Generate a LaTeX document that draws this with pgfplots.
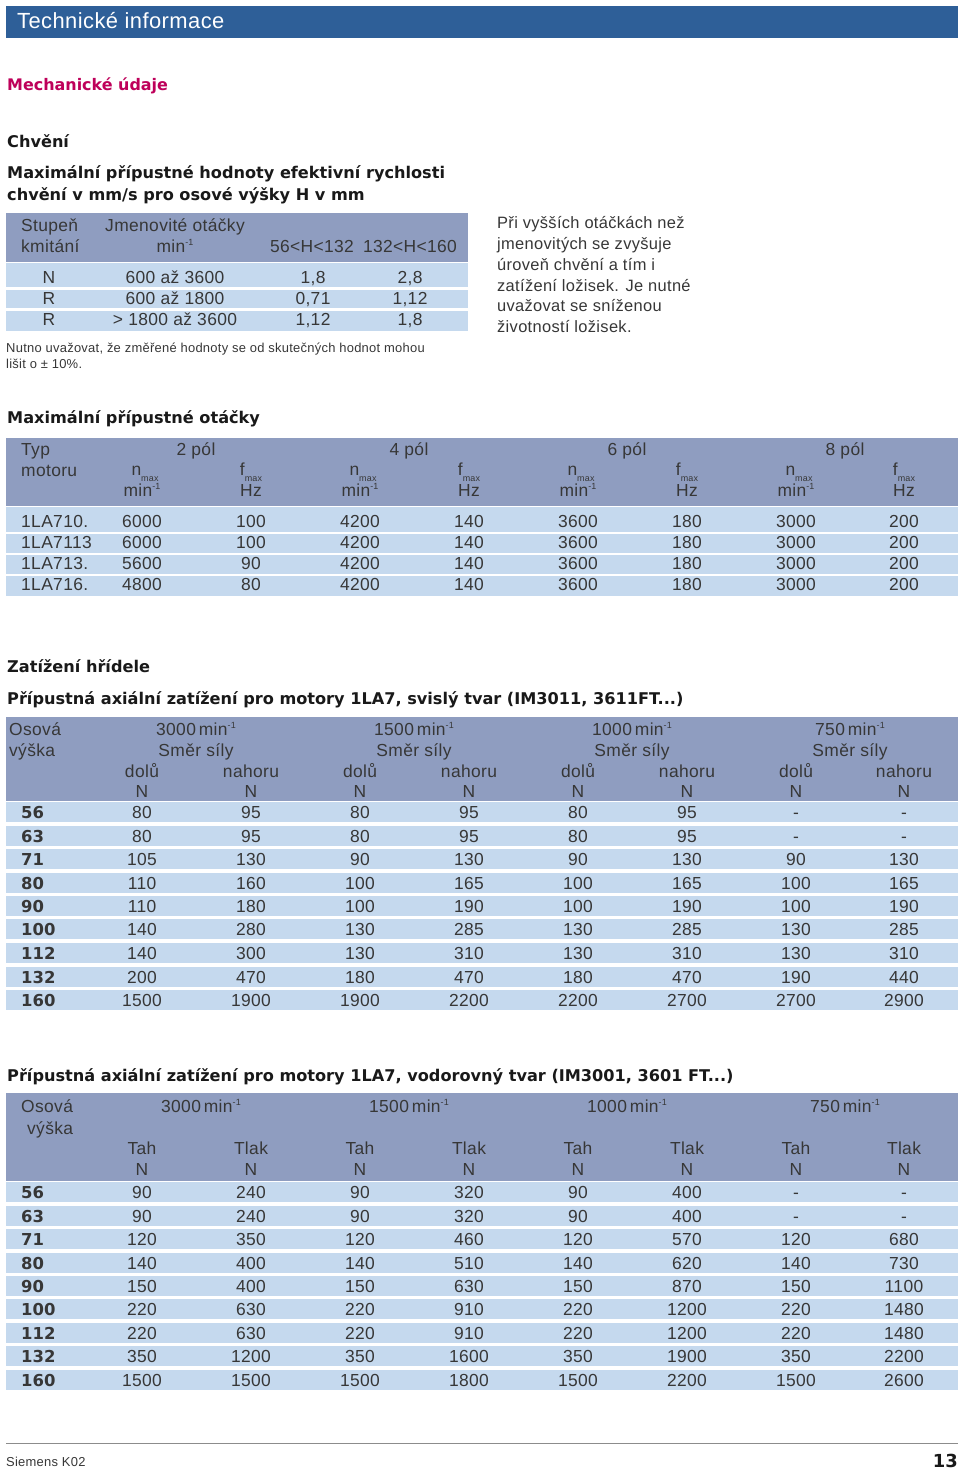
\documentclass[border=0pt]{standalone}
\usepackage{pgfplots}
\pgfplotsset{compat=1.18}
\usepackage{pgfplotstable}
\usepackage{fontspec}
\setmainfont[LetterSpace=2]{Liberation Sans}
\newfontfamily\bff{DejaVu Sans}
\definecolor{band}{RGB}{46,95,152}
\definecolor{mag}{RGB}{190,0,90}
\definecolor{hdr}{RGB}{143,157,192}
\definecolor{rowc}{RGB}{197,217,238}
\definecolor{txt}{RGB}{55,55,55}
\definecolor{rulec}{RGB}{140,140,140}
\newcommand\fs[1]{\fontsize{#1}{#1}\selectfont}
\newcommand\mi{min\raisebox{0.42em}{\fs{9}-1}}
\newcommand\nmax{n\raisebox{-0.32em}{\fs{9}max}}
\newcommand\fmax{f\raisebox{-0.32em}{\fs{9}max}}
\tikzset{
 tx/.style={inner sep=0pt,text=txt,font=\fs{17.5},yshift=-4bp},
 sm/.style={inner sep=0pt,text=txt,font=\fs{13},yshift=-3bp},
 hd/.style={inner sep=0pt,text=black!90,font=\bff\fs{16.2}\bfseries,yshift=-4bp},
}
\newcommand\cc[5]{\addplot[draw=none,mark=none,nodes near coords,point meta=explicit symbolic,every node near coord/.style={anchor=#4,inner sep=0pt,text=txt,yshift=-4bp,font=#5}] table[x expr=#2,y=y,meta=#3]{#1};}
\newcommand\rf[3]{\fill[rowc] (axis cs:6,#1) rectangle (axis cs:#3,#2);}

\pgfplotstableread[col sep=semicolon]{
y;k;n;a;b
277;N;600 až 3600;1,8;2,8
298;R;600 až 1800;0,71;1,12
319;R;> 1800 až 3600;1,12;1,8
}\tabA

\pgfplotstableread{
y lab c1 c2 c3 c4 c5 c6 c7 c8
521 1LA710. 6000 100 4200 140 3600 180 3000 200
542 1LA7113 6000 100 4200 140 3600 180 3000 200
563 1LA713. 5600 90 4200 140 3600 180 3000 200
584 1LA716. 4800 80 4200 140 3600 180 3000 200
}\tabB

\pgfplotstableread{
y lab c1 c2 c3 c4 c5 c6 c7 c8
812 56 80 95 80 95 80 95 - -
836 63 80 95 80 95 80 95 - -
859 71 105 130 90 130 90 130 90 130
883 80 110 160 100 165 100 165 100 165
906 90 110 180 100 190 100 190 100 190
929 100 140 280 130 285 130 285 130 285
953 112 140 300 130 310 130 310 130 310
977 132 200 470 180 470 180 470 190 440
1000 160 1500 1900 1900 2200 2200 2700 2700 2900
}\tabC

\pgfplotstableread{
y lab c1 c2 c3 c4 c5 c6 c7 c8
1192 56 90 240 90 320 90 400 - -
1216 63 90 240 90 320 90 400 - -
1239 71 120 350 120 460 120 570 120 680
1263 80 140 400 140 510 140 620 140 730
1286 90 150 400 150 630 150 870 150 1100
1309 100 220 630 220 910 220 1200 220 1480
1333 112 220 630 220 910 220 1200 220 1480
1356 132 350 1200 350 1600 350 1900 350 2200
1380 160 1500 1500 1500 1800 1500 2200 1500 2600
}\tabD

\begin{document}
\begin{tikzpicture}
\begin{axis}[scale only axis,width=960bp,height=1469bp,xmin=0,xmax=960,ymin=0,ymax=1469,y dir=reverse,hide axis,clip=false]
\fill[white] (axis cs:0,0) rectangle (axis cs:960,1469);
% header band
\fill[band] (axis cs:6,6) rectangle (axis cs:958,38);
\node[anchor=mid west,inner sep=0pt,text=white,font=\fs{22},yshift=-4bp] at (axis cs:17,22) {Technické informace};
\node[anchor=mid west,inner sep=0pt,text=mag,font=\bff\fs{16}\bfseries,yshift=-4bp] at (axis cs:7,84) {Mechanické údaje};
\node[hd,anchor=mid west] at (axis cs:7,141) {Chvění};
\node[hd,anchor=mid west] at (axis cs:7,172) {Maximální přípustné hodnoty efektivní rychlosti};
\node[hd,anchor=mid west] at (axis cs:7,194) {chvění v mm/s pro osové výšky H v mm};
% table 1
\fill[hdr] (axis cs:6,213) rectangle (axis cs:468,262);
\rf{263}{287}{468}
\rf{290}{308}{468}
\rf{311}{331}{468}
\node[tx,anchor=mid west] at (axis cs:21,225) {Stupeň};
\node[tx,anchor=mid west] at (axis cs:21,246) {kmitání};
\node[tx,anchor=mid] at (axis cs:175,225) {Jmenovité otáčky};
\node[tx,anchor=mid] at (axis cs:175,246) {\mi};
\node[tx,anchor=mid] at (axis cs:312,246) {56<H<132};
\node[tx,anchor=mid] at (axis cs:410,246) {132<H<160};
\cc{\tabA}{49}{k}{mid}{\fs{17.5}}
\cc{\tabA}{175}{n}{mid}{\fs{17.5}}
\cc{\tabA}{313}{a}{mid}{\fs{17.5}}
\cc{\tabA}{410}{b}{mid}{\fs{17.5}}
\node[sm,anchor=mid west] at (axis cs:6,347) {Nutno uvažovat, že změřené hodnoty se od skutečných hodnot mohou};
\node[sm,anchor=mid west] at (axis cs:6,363) {lišit o ± 10\%.};
\node[tx,anchor=mid west,font=\fs{16.5}] at (axis cs:497,222) {Při vyšších otáčkách než};
\node[tx,anchor=mid west,font=\fs{16.5}] at (axis cs:497,243) {jmenovitých se zvyšuje};
\node[tx,anchor=mid west,font=\fs{16.5}] at (axis cs:497,264) {úroveň chvění a tím i};
\node[tx,anchor=mid west,font=\fs{16.5}] at (axis cs:497,285) {zatížení ložisek. Je nutné};
\node[tx,anchor=mid west,font=\fs{16.5}] at (axis cs:497,305) {uvažovat se sníženou};
\node[tx,anchor=mid west,font=\fs{16.5}] at (axis cs:497,326) {životností ložisek.};
% table 2
\node[hd,anchor=mid west] at (axis cs:7,417) {Maximální přípustné otáčky};
\fill[hdr] (axis cs:6,438) rectangle (axis cs:958,506);
\rf{507}{532}{958}
\rf{534}{553}{958}
\rf{555}{574}{958}
\rf{576}{596}{958}
\node[tx,anchor=mid west] at (axis cs:21,449) {Typ};
\node[tx,anchor=mid west] at (axis cs:21,470) {motoru};
\node[tx,anchor=mid] at (axis cs:196,449) {2 pól};
\node[tx,anchor=mid] at (axis cs:409,449) {4 pól};
\node[tx,anchor=mid] at (axis cs:627,449) {6 pól};
\node[tx,anchor=mid] at (axis cs:845,449) {8 pól};
\pgfplotsinvokeforeach{142,360,578,796}{\node[tx,anchor=mid] at (axis cs:#1+3,469) {\nmax};\node[tx,anchor=mid] at (axis cs:#1,490) {\mi};}
\pgfplotsinvokeforeach{251,469,687,904}{\node[tx,anchor=mid] at (axis cs:#1,469) {\fmax};\node[tx,anchor=mid] at (axis cs:#1,490) {Hz};}
\cc{\tabB}{21}{lab}{mid west}{\fs{17.5}}
\cc{\tabB}{142}{c1}{mid}{\fs{17.5}}
\cc{\tabB}{251}{c2}{mid}{\fs{17.5}}
\cc{\tabB}{360}{c3}{mid}{\fs{17.5}}
\cc{\tabB}{469}{c4}{mid}{\fs{17.5}}
\cc{\tabB}{578}{c5}{mid}{\fs{17.5}}
\cc{\tabB}{687}{c6}{mid}{\fs{17.5}}
\cc{\tabB}{796}{c7}{mid}{\fs{17.5}}
\cc{\tabB}{904}{c8}{mid}{\fs{17.5}}
% table 3
\node[hd,anchor=mid west] at (axis cs:7,666) {Zatížení hřídele};
\node[hd,anchor=mid west] at (axis cs:7,698) {Přípustná axiální zatížení pro motory 1LA7, svislý tvar (IM3011, 3611FT...)};
\fill[hdr] (axis cs:6,717) rectangle (axis cs:958,801);
\rf{801.7}{822.3}{958}
\rf{825.7}{846.3}{958}
\rf{848.7}{869.3}{958}
\rf{872.7}{893.3}{958}
\rf{895.7}{916.3}{958}
\rf{918.7}{939.3}{958}
\rf{942.7}{963.3}{958}
\rf{966.7}{987.3}{958}
\rf{989.7}{1010.3}{958}
\node[tx,anchor=mid west] at (axis cs:9,729) {Osová};
\node[tx,anchor=mid west] at (axis cs:9,750) {výška};
\node[tx,anchor=mid] at (axis cs:196,729) {3000\,\mi};
\node[tx,anchor=mid] at (axis cs:414,729) {1500\,\mi};
\node[tx,anchor=mid] at (axis cs:632,729) {1000\,\mi};
\node[tx,anchor=mid] at (axis cs:850,729) {750\,\mi};
\pgfplotsinvokeforeach{196,414,632,850}{\node[tx,anchor=mid] at (axis cs:#1,750) {Směr síly};}
\pgfplotsinvokeforeach{142,360,578,796}{\node[tx,anchor=mid] at (axis cs:#1,771) {dolů};\node[tx,anchor=mid] at (axis cs:#1,791) {N};}
\pgfplotsinvokeforeach{251,469,687,904}{\node[tx,anchor=mid] at (axis cs:#1,771) {nahoru};\node[tx,anchor=mid] at (axis cs:#1,791) {N};}
\cc{\tabC}{21}{lab}{mid west}{\bff\fs{16.5}\bfseries}
\cc{\tabC}{142}{c1}{mid}{\fs{17.5}}
\cc{\tabC}{251}{c2}{mid}{\fs{17.5}}
\cc{\tabC}{360}{c3}{mid}{\fs{17.5}}
\cc{\tabC}{469}{c4}{mid}{\fs{17.5}}
\cc{\tabC}{578}{c5}{mid}{\fs{17.5}}
\cc{\tabC}{687}{c6}{mid}{\fs{17.5}}
\cc{\tabC}{796}{c7}{mid}{\fs{17.5}}
\cc{\tabC}{904}{c8}{mid}{\fs{17.5}}
% table 4
\node[hd,anchor=mid west] at (axis cs:7,1075) {Přípustná axiální zatížení pro motory 1LA7, vodorovný tvar (IM3001, 3601 FT...)};
\fill[hdr] (axis cs:6,1093) rectangle (axis cs:958,1181);
\rf{1181.7}{1202.3}{958}
\rf{1205.7}{1226.3}{958}
\rf{1228.7}{1249.3}{958}
\rf{1252.7}{1273.3}{958}
\rf{1275.7}{1296.3}{958}
\rf{1298.7}{1319.3}{958}
\rf{1322.7}{1343.3}{958}
\rf{1345.7}{1366.3}{958}
\rf{1369.7}{1390.3}{958}
\node[tx,anchor=mid west] at (axis cs:21,1106) {Osová};
\node[tx,anchor=mid west] at (axis cs:27,1128) {výška};
\node[tx,anchor=mid] at (axis cs:201,1106) {3000\,\mi};
\node[tx,anchor=mid] at (axis cs:409,1106) {1500\,\mi};
\node[tx,anchor=mid] at (axis cs:627,1106) {1000\,\mi};
\node[tx,anchor=mid] at (axis cs:845,1106) {750\,\mi};
\pgfplotsinvokeforeach{142,360,578,796}{\node[tx,anchor=mid] at (axis cs:#1,1148) {Tah};\node[tx,anchor=mid] at (axis cs:#1,1169) {N};}
\pgfplotsinvokeforeach{251,469,687,904}{\node[tx,anchor=mid] at (axis cs:#1,1148) {Tlak};\node[tx,anchor=mid] at (axis cs:#1,1169) {N};}
\cc{\tabD}{21}{lab}{mid west}{\bff\fs{16.5}\bfseries}
\cc{\tabD}{142}{c1}{mid}{\fs{17.5}}
\cc{\tabD}{251}{c2}{mid}{\fs{17.5}}
\cc{\tabD}{360}{c3}{mid}{\fs{17.5}}
\cc{\tabD}{469}{c4}{mid}{\fs{17.5}}
\cc{\tabD}{578}{c5}{mid}{\fs{17.5}}
\cc{\tabD}{687}{c6}{mid}{\fs{17.5}}
\cc{\tabD}{796}{c7}{mid}{\fs{17.5}}
\cc{\tabD}{904}{c8}{mid}{\fs{17.5}}
% footer
\draw[rulec,line width=1bp] (axis cs:6,1443) -- (axis cs:958,1443);
\node[sm,anchor=mid west] at (axis cs:6,1461) {Siemens K02};
\node[anchor=mid east,inner sep=0pt,text=black!90,font=\bff\fs{18}\bfseries,yshift=-4bp] at (axis cs:958,1461) {13};
\end{axis}
\end{tikzpicture}
\end{document}
